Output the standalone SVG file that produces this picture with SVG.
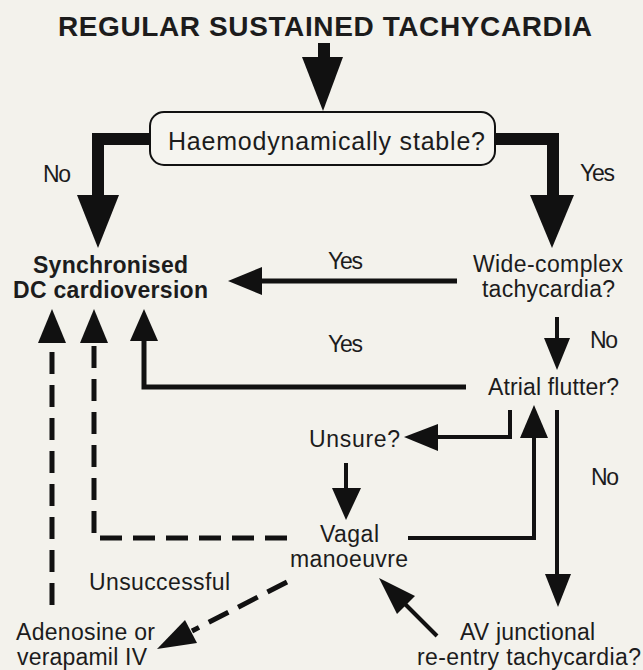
<svg xmlns="http://www.w3.org/2000/svg" width="643" height="670" viewBox="0 0 643 670">
<style>
.t{font-family:"Liberation Sans",Arial,Helvetica,sans-serif;font-size:23px;fill:#1c1c1c}
.b{font-weight:bold}
.tt{font-size:28px}
.h{font-size:25px}
.ln{fill:none;stroke:#111;stroke-linejoin:miter}
.hd{fill:#111;stroke:none}
.ds{fill:none;stroke:#111;stroke-width:5;stroke-dasharray:22 11}
</style>
<rect width="643" height="670" fill="#f3f2ec"/>
<g id="title">
<text class="t b tt" x="58" y="36" textLength="534" lengthAdjust="spacing">REGULAR SUSTAINED TACHYCARDIA</text>
</g>
<g id="stable">
<rect x="150" y="112" width="345" height="53" rx="14" fill="#f5f4ef" stroke="#111" stroke-width="2"/>
<text class="t h" x="168" y="150" textLength="317" lengthAdjust="spacing">Haemodynamically stable?</text>
</g>
<g id="dc">
<text class="t b" x="33" y="273" textLength="155" lengthAdjust="spacing">Synchronised</text>
<text class="t b" x="13" y="298" textLength="195" lengthAdjust="spacing">DC cardioversion</text>
</g>
<g id="wide">
<text class="t" x="473" y="272" textLength="150" lengthAdjust="spacing">Wide-complex</text>
<text class="t" x="482" y="297" textLength="133" lengthAdjust="spacing">tachycardia?</text>
</g>
<g id="flutter">
<text class="t" x="488" y="395" textLength="131" lengthAdjust="spacing">Atrial flutter?</text>
</g>
<g id="unsure">
<text class="t" x="309" y="447" textLength="91" lengthAdjust="spacing">Unsure?</text>
</g>
<g id="vagal">
<text class="t" x="320" y="542" textLength="59" lengthAdjust="spacing">Vagal</text>
<text class="t" x="290" y="567" textLength="118" lengthAdjust="spacing">manoeuvre</text>
</g>
<g id="adenosine">
<text class="t" x="16" y="640" textLength="139" lengthAdjust="spacing">Adenosine or</text>
<text class="t" x="17" y="665" textLength="130" lengthAdjust="spacing">verapamil IV</text>
</g>
<g id="avjunctional">
<text class="t" x="460" y="640" textLength="135" lengthAdjust="spacing">AV junctional</text>
<text class="t" x="417" y="665" textLength="224" lengthAdjust="spacing">re-entry tachycardia?</text>
</g>
<g id="connectors">
<rect x="318" y="43" width="12" height="16" fill="#111"/>
<polygon class="hd" points="302,57 343,57 323,111"/>
<path class="ln" d="M151 139 H98 V197" stroke-width="12"/>
<polygon class="hd" points="77,195 119,195 98,248"/>
<path class="ln" d="M494 139 H553 V197" stroke-width="12"/>
<polygon class="hd" points="530,195 574,195 552,248"/>
<line class="ln" x1="457" y1="281" x2="258" y2="281" stroke-width="5"/>
<polygon class="hd" points="228,281 262,267 262,295"/>
<line class="ln" x1="557" y1="317" x2="557" y2="340" stroke-width="4"/>
<polygon class="hd" points="544,338 570,338 557,370"/>
<path class="ln" d="M466 387 H144 V338" stroke-width="5"/>
<polygon class="hd" points="130,341 158,341 144,309"/>
<path class="ds" d="M52 605 V343"/>
<polygon class="hd" points="38,343 66,343 52,309"/>
<path class="ds" d="M287 538 H94 V343"/>
<polygon class="hd" points="80,343 108,343 94,309"/>
<path class="ln" d="M510 410 V437 H435" stroke-width="4"/>
<polygon class="hd" points="404,437 438,424 438,451"/>
<path class="ln" d="M408 538 H534 V435" stroke-width="4"/>
<polygon class="hd" points="520,438 548,438 534,405"/>
<line class="ln" x1="557" y1="410" x2="557" y2="576" stroke-width="4"/>
<polygon class="hd" points="545,574 571,574 558,607"/>
<line class="ln" x1="346" y1="463" x2="346" y2="490" stroke-width="4"/>
<polygon class="hd" points="332,488 361,488 346,520"/>
<path class="ds" d="M287 582 L192 631" stroke-dasharray="18 10"/>
<polygon class="hd" points="157,649 185,620 197,643"/>
<line class="ln" x1="437" y1="636" x2="404" y2="603" stroke-width="4"/>
<polygon class="hd" points="379,578 415,596 397,614"/>
</g>
<g id="labels">
<text class="t" x="43" y="182" textLength="28" lengthAdjust="spacing">No</text>
<text class="t" x="580" y="181" textLength="35" lengthAdjust="spacing">Yes</text>
<text class="t" x="328" y="269" textLength="35" lengthAdjust="spacing">Yes</text>
<text class="t" x="590" y="348" textLength="28" lengthAdjust="spacing">No</text>
<text class="t" x="328" y="352" textLength="35" lengthAdjust="spacing">Yes</text>
<text class="t" x="591" y="485" textLength="28" lengthAdjust="spacing">No</text>
<text class="t" x="89" y="590" textLength="141" lengthAdjust="spacing">Unsuccessful</text>
</g>
</svg>
